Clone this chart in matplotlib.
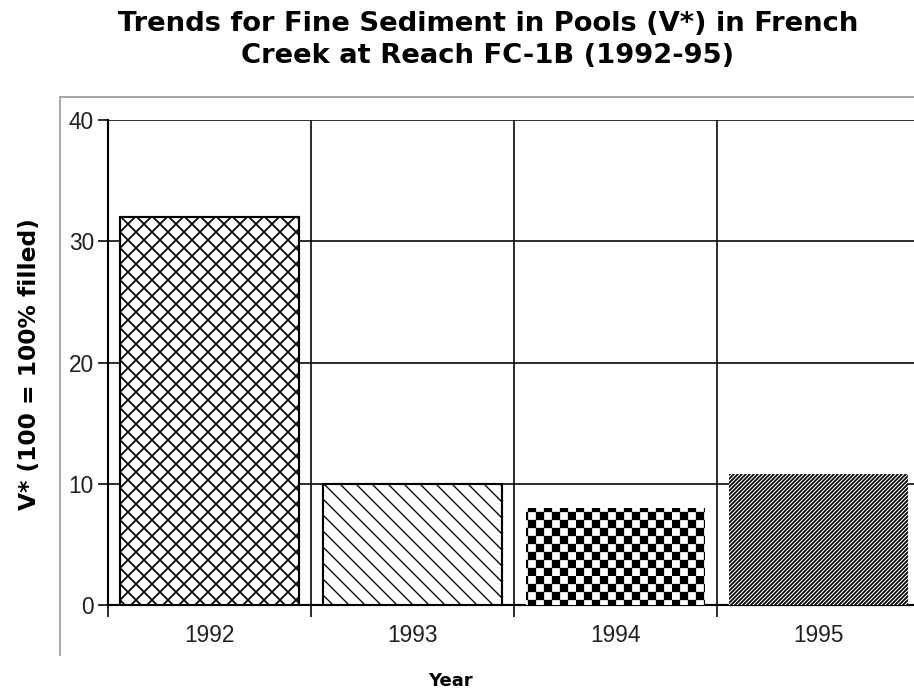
import warnings
import numpy as np
import matplotlib
matplotlib.use("Agg")
import matplotlib.pyplot as plt
import matplotlib.hatch as mhatch
from matplotlib.path import Path
from matplotlib.lines import Line2D

warnings.filterwarnings("ignore", category=matplotlib.MatplotlibDeprecationWarning)

# V* per survey year, reach FC-1B
years = ["1992", "1993", "1994", "1995"]
v_star = [32, 10, 8, 10.8]

# fill style for each bar
hatches = ["xx", "\\\\", "#", "////////"]
hatch_widths = [1.3, 1.0, 0.2, 1.3]
outlined = [True, True, False, False]


class CheckerHatch(mhatch.HatchPatternBase):
    """'#' gives a checkerboard of filled squares."""

    def __init__(self, hatch, density):
        self.n = 2 * hatch.count("#") * density
        self.cells = [(i, j) for i in range(self.n) for j in range(self.n)
                      if (i + j) % 2 == 0]
        self.num_vertices = 5 * len(self.cells)

    def set_vertices_and_codes(self, vertices, codes):
        s = 1.0 / self.n
        for k, (i, j) in enumerate(self.cells):
            x0, y0 = i * s, j * s
            vertices[5 * k:5 * k + 5] = [(x0, y0), (x0 + s, y0), (x0 + s, y0 + s),
                                         (x0, y0 + s), (x0, y0)]
            codes[5 * k:5 * k + 5] = [Path.MOVETO, Path.LINETO, Path.LINETO,
                                      Path.LINETO, Path.CLOSEPOLY]


mhatch._hatch_types.append(CheckerHatch)

W, H, DPI = 914, 692, 96
fig = plt.figure(figsize=(W / DPI, H / DPI), dpi=DPI)
ax = fig.add_axes([108 / W, 1 - 605 / H, 812 / W, 485 / H])

x = np.arange(len(years))
for xi, val, hatch, hlw, edge in zip(x, v_star, hatches, hatch_widths, outlined):
    with plt.rc_context({"hatch.linewidth": hlw}):
        bars = ax.bar(xi, val, width=0.88, facecolor="white", edgecolor="black",
                      linewidth=1.6 if edge else 0, hatch=hatch, zorder=3)
    for b in bars:
        if hasattr(b, "set_hatch_linewidth"):
            b.set_hatch_linewidth(hlw)

ax.set_xlim(-0.5, len(years) - 0.5)
ax.set_ylim(0, 40)
ax.set_yticks([0, 10, 20, 30, 40])
ax.set_xticks(x, years)
ax.set_xticks(np.arange(len(years) + 1) - 0.5, minor=True)

for lab in ax.get_xticklabels() + ax.get_yticklabels():
    lab.set_fontfamily("Liberation Sans")
    lab.set_fontsize(17)
    lab.set_color("#202020")

ax.tick_params(axis="x", which="major", length=0, pad=14)
ax.tick_params(axis="x", which="minor", length=9, width=1.2, color="black")
ax.tick_params(axis="y", length=7.5, width=1.2, pad=3, color="black")

ax.grid(True, axis="y", which="major", color="black", linewidth=1.2)
ax.grid(True, axis="x", which="minor", color="black", linewidth=1.2)
ax.set_axisbelow(True)

for side in ["top", "right"]:
    ax.spines[side].set_visible(False)
for side in ["left", "bottom"]:
    ax.spines[side].set_linewidth(1.6)

# light outer frame
fig.add_artist(Line2D([60 / W, 60 / W], [1 - 655 / H, 1 - 97 / H],
                      color="#a8a8a8", linewidth=1.5, transform=fig.transFigure))
fig.add_artist(Line2D([60 / W, 1.0], [1 - 97 / H, 1 - 97 / H],
                      color="#a8a8a8", linewidth=1.5, transform=fig.transFigure))

fig.text(488 / W, 1 - 11 / H,
         "Trends for Fine Sediment in Pools (V*) in French\nCreek at Reach FC-1B (1992-95)",
         ha="center", va="top", fontsize=20.5, fontweight="bold",
         family="DejaVu Sans", linespacing=1.32)
fig.text(30 / W, 1 - 364 / H, "V* (100 = 100% filled)", rotation=90,
         ha="center", va="center", fontsize=17.5, fontweight="bold", family="DejaVu Sans")
fig.text(450 / W, 1 - 681 / H, "Year", ha="center", va="center",
         fontsize=13.5, fontweight="bold", family="DejaVu Sans")

fig.savefig("out.png", dpi=DPI)
